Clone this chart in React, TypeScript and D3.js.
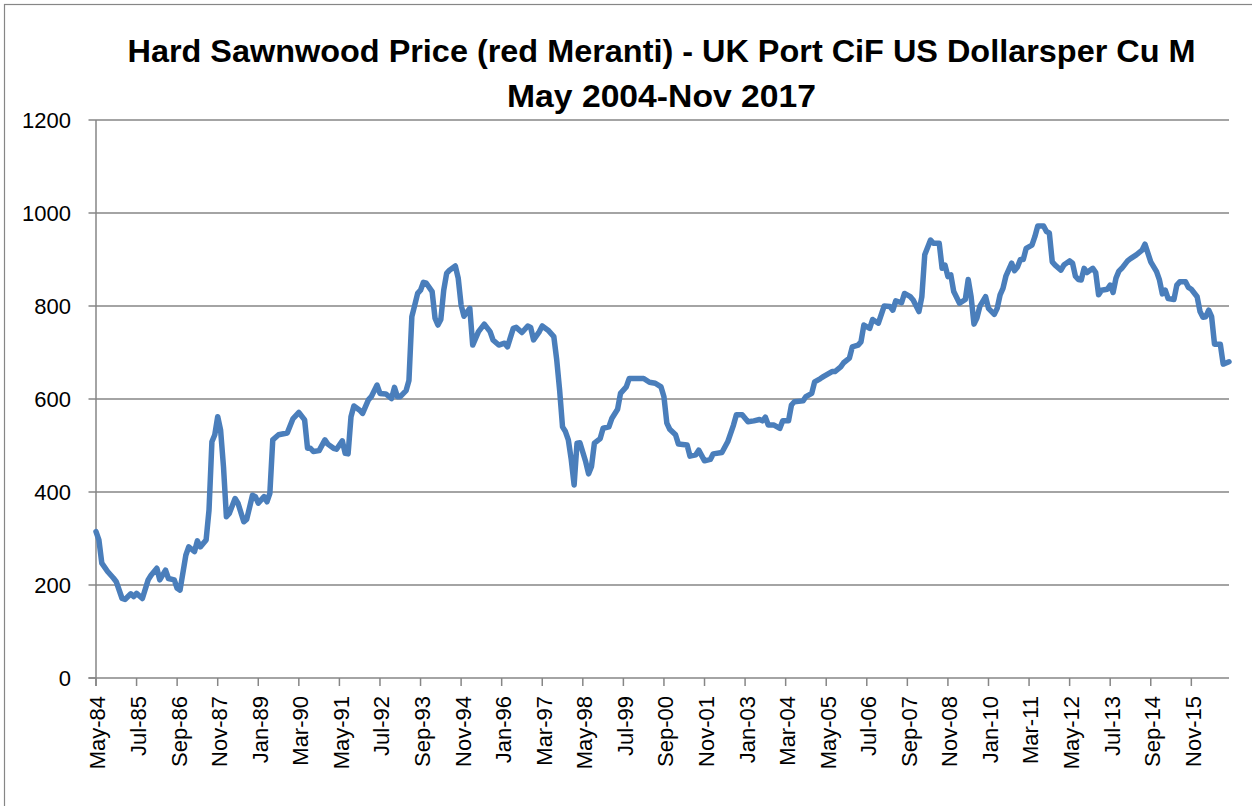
import * as d3 from "d3";

// monthly price readings (USD per cubic metre)
const dates = [
  "1984-05", "1984-06", "1984-07", "1984-09", "1984-11", "1984-12",
  "1985-02", "1985-03", "1985-05", "1985-06", "1985-07", "1985-09", "1985-11", "1985-12",
  "1986-02", "1986-03", "1986-05", "1986-06", "1986-08", "1986-09", "1986-10", "1986-12",
  "1987-01", "1987-03", "1987-04", "1987-05", "1987-07", "1987-08", "1987-09", "1987-10", "1987-11", "1987-12",
  "1988-01", "1988-02", "1988-03", "1988-05", "1988-06", "1988-08", "1988-09", "1988-11", "1988-12",
  "1989-01", "1989-03", "1989-04", "1989-05", "1989-06", "1989-08", "1989-11", "1990-01",
  "1990-03", "1990-05", "1990-06", "1990-07", "1990-08", "1990-10", "1990-12", "1991-01",
  "1991-03", "1991-04", "1991-06", "1991-07", "1991-08", "1991-09", "1991-10", "1991-12", "1992-01",
  "1992-03", "1992-04", "1992-06", "1992-07", "1992-09", "1992-11", "1992-12", "1993-01",
  "1993-02", "1993-04", "1993-05", "1993-06", "1993-07", "1993-08", "1993-09", "1993-10", "1993-11", "1994-01",
  "1994-02", "1994-03", "1994-04", "1994-05", "1994-06", "1994-07", "1994-09", "1994-10", "1994-11", "1994-12",
  "1995-02", "1995-03", "1995-05", "1995-07", "1995-09", "1995-10", "1995-12",
  "1996-02", "1996-03", "1996-05", "1996-06", "1996-08", "1996-10", "1996-11", "1996-12",
  "1997-02", "1997-03", "1997-05", "1997-07", "1997-08", "1997-09", "1997-10", "1997-11", "1997-12", "1998-01",
  "1998-02", "1998-03", "1998-04", "1998-06", "1998-07", "1998-08", "1998-09", "1998-11", "1998-12",
  "1999-02", "1999-03", "1999-05", "1999-06", "1999-08", "1999-09", "1999-11",
  "2000-02", "2000-04", "2000-06", "2000-08", "2000-09", "2000-10", "2000-11", "2001-01",
  "2001-02", "2001-05", "2001-06", "2001-08", "2001-09", "2001-11", "2002-01",
  "2002-02", "2002-05", "2002-07", "2002-09", "2002-10", "2002-12",
  "2003-02", "2003-04", "2003-06", "2003-07", "2003-08", "2003-09", "2003-11", "2004-01",
  "2004-02", "2004-04", "2004-05", "2004-06", "2004-09", "2004-10", "2004-12", "2005-01",
  "2005-03", "2005-04", "2005-07", "2005-08", "2005-10", "2005-11", "2006-01", "2006-02",
  "2006-04", "2006-05", "2006-06", "2006-08", "2006-09", "2006-11", "2007-01",
  "2007-03", "2007-04", "2007-05", "2007-07", "2007-08", "2007-10", "2007-11", "2008-01", "2008-02",
  "2008-03", "2008-05", "2008-06", "2008-08", "2008-09", "2008-10", "2008-11", "2008-12", "2009-01",
  "2009-03", "2009-05", "2009-06", "2009-07", "2009-08", "2009-09", "2009-10", "2009-12", "2010-01",
  "2010-03", "2010-04", "2010-05", "2010-06", "2010-07", "2010-09", "2010-10", "2010-11", "2010-12", "2011-01", "2011-02",
  "2011-04", "2011-05", "2011-06", "2011-08", "2011-09", "2011-10", "2011-11", "2011-12", "2012-02",
  "2012-03", "2012-05", "2012-06", "2012-07", "2012-08", "2012-09", "2012-10", "2012-11", "2013-01", "2013-02",
  "2013-03", "2013-04", "2013-06", "2013-07", "2013-08", "2013-09", "2013-10", "2013-11", "2014-01", "2014-02",
  "2014-04", "2014-06", "2014-07", "2014-09", "2014-11", "2014-12", "2015-01", "2015-02",
  "2015-03", "2015-05", "2015-06", "2015-07", "2015-09", "2015-10", "2015-11", "2016-01", "2016-02",
  "2016-03", "2016-04", "2016-05", "2016-06", "2016-07", "2016-09", "2016-10", "2016-12",
];

const prices = [
  315, 297, 247, 229, 215, 207,
  171, 169, 181, 175, 182, 171, 211, 221,
  236, 211, 232, 214, 211, 193, 189, 264,
  282, 272, 295, 282, 297, 361, 508, 523, 562, 533,
  454, 347, 354, 386, 376, 336, 341, 393, 390,
  376, 390, 379, 397, 512, 523, 527, 558,
  571, 555, 494, 494, 487, 489, 512, 503,
  494, 492, 510, 483, 482, 562, 585, 576, 569,
  598, 605, 630, 612, 611, 601, 625, 605,
  605, 618, 640, 777, 802, 827, 834, 851, 849, 831,
  774, 759, 771, 834, 870, 877, 886, 860, 802, 778,
  795, 716, 745, 761, 745, 727, 716,
  720, 712, 752, 754, 743, 757, 754, 727,
  745, 757, 748, 734, 684, 619, 540, 530, 512, 470,
  415, 505, 506, 465, 439, 455, 505, 515, 537,
  540, 558, 578, 612, 626, 644, 644,
  644, 636, 634, 626, 605, 548, 535, 523,
  503, 501, 477, 480, 490, 467, 470,
  482, 485, 508, 544, 566, 566,
  551, 553, 556, 553, 561, 544, 544, 537,
  553, 553, 587, 594, 596, 605, 612, 637,
  644, 648, 659, 659, 669, 678, 688, 712,
  716, 723, 759, 752, 771, 763, 800,
  799, 791, 811, 807, 827, 820, 813, 788, 820,
  910, 942, 935, 935, 881, 888, 863, 867, 831,
  806, 814, 857, 820, 761, 774, 799, 820, 795,
  782, 795, 824, 838, 864, 892, 876, 884, 900, 900, 924,
  931, 949, 972, 972, 960, 957, 895, 888, 877,
  888, 897, 892, 864, 857, 856, 881, 872, 881, 872,
  824, 834, 836, 845, 829, 860, 875, 881, 897, 902,
  910, 920, 933, 895, 874, 856, 826, 834,
  816, 814, 845, 852, 852, 840, 836, 820, 788,
  776, 777, 791, 777, 718, 718, 675, 680,
];

const tickLabels = [
  "May-84", "Jul-85", "Sep-86", "Nov-87", "Jan-89", "Mar-90", "May-91",
  "Jul-92", "Sep-93", "Nov-94", "Jan-96", "Mar-97", "May-98", "Jul-99",
  "Sep-00", "Nov-01", "Jan-03", "Mar-04", "May-05", "Jul-06", "Sep-07",
  "Nov-08", "Jan-10", "Mar-11", "May-12", "Jul-13", "Sep-14", "Nov-15",
];

const yTicks = [0, 200, 400, 600, 800, 1000, 1200];

const titleLines = [
  "Hard Sawnwood Price (red Meranti) - UK Port CiF US Dollarsper Cu M",
  "May 2004-Nov 2017",
];

const W = 1252;
const H = 806;
const plot = { left: 96, right: 1229, top: 120, bottom: 678 };
const FONT = "'Liberation Sans', Arial, sans-serif";
const GRID = "#868686";

export default function App() {
  const parseData = d3.timeParse("%Y-%m");
  const parseTick = d3.timeParse("%b-%y");
  const first = parseData(dates[0])!;
  const series = dates.map((d, i) => ({ m: d3.timeMonth.count(first, parseData(d)!), v: prices[i] }));
  const lastM = series[series.length - 1].m;

  // category axis, points on tick marks: first month at the left edge, last at the right edge
  const x = d3.scaleLinear().domain([0, lastM]).range([plot.left, plot.right]);
  const y = d3.scaleLinear().domain([0, 1200]).range([plot.bottom, plot.top]);

  const line = d3.line<{ m: number; v: number }>().x(d => x(d.m)).y(d => y(d.v));

  const ticks = tickLabels.map(t => ({ t, m: d3.timeMonth.count(first, parseTick(t)!) }));
  const cx = (plot.left + plot.right) / 2 - 1;

  return (
    <svg width={W} height={H} style={{ position: "absolute", left: 0, top: 0, background: "#fff" }}
      fontFamily={FONT}>
      <rect x={4.5} y={4.5} width={W + 20} height={H + 20} fill="#fff" stroke={GRID} strokeWidth={1.2} />

      {titleLines.map((t, i) => (
        <text key={t} x={cx} y={62 + i * 45} textAnchor="middle" fontSize={31} fontWeight="bold"
          fill="#000" textLength={i === 0 ? 1068 : 309} lengthAdjust="spacingAndGlyphs">{t}</text>
      ))}

      {yTicks.map(v => (
        <g key={v}>
          {v > 0 && <line x1={plot.left} x2={plot.right} y1={y(v)} y2={y(v)} stroke={GRID} strokeWidth={1.5} />}
          <line x1={plot.left - 7.5} x2={plot.left} y1={y(v)} y2={y(v)} stroke={GRID} strokeWidth={1.5} />
          <text x={71} y={y(v)} dy="0.36em" textAnchor="end" fontSize={22} fill="#000">{v}</text>
        </g>
      ))}

      <line x1={plot.left} x2={plot.left} y1={plot.top} y2={plot.bottom + 8} stroke={GRID} strokeWidth={1.5} />
      <line x1={plot.left - 7.5} x2={plot.right} y1={plot.bottom} y2={plot.bottom} stroke={GRID} strokeWidth={1.5} />

      {ticks.map(({ t, m }) => (
        <g key={t}>
          <line x1={x(m)} x2={x(m)} y1={plot.bottom} y2={plot.bottom + 8} stroke={GRID} strokeWidth={1.5} />
          <text transform={`translate(${x(m) + 1.5},${plot.bottom + 18}) rotate(-90)`} dy="0.36em"
            textAnchor="end" fontSize={22} fill="#000">{t}</text>
        </g>
      ))}

      <path d={line(series) ?? ""} fill="none" stroke="#4A7EBB" strokeWidth={5.5}
        strokeLinejoin="round" strokeLinecap="round" />
    </svg>
  );
}
